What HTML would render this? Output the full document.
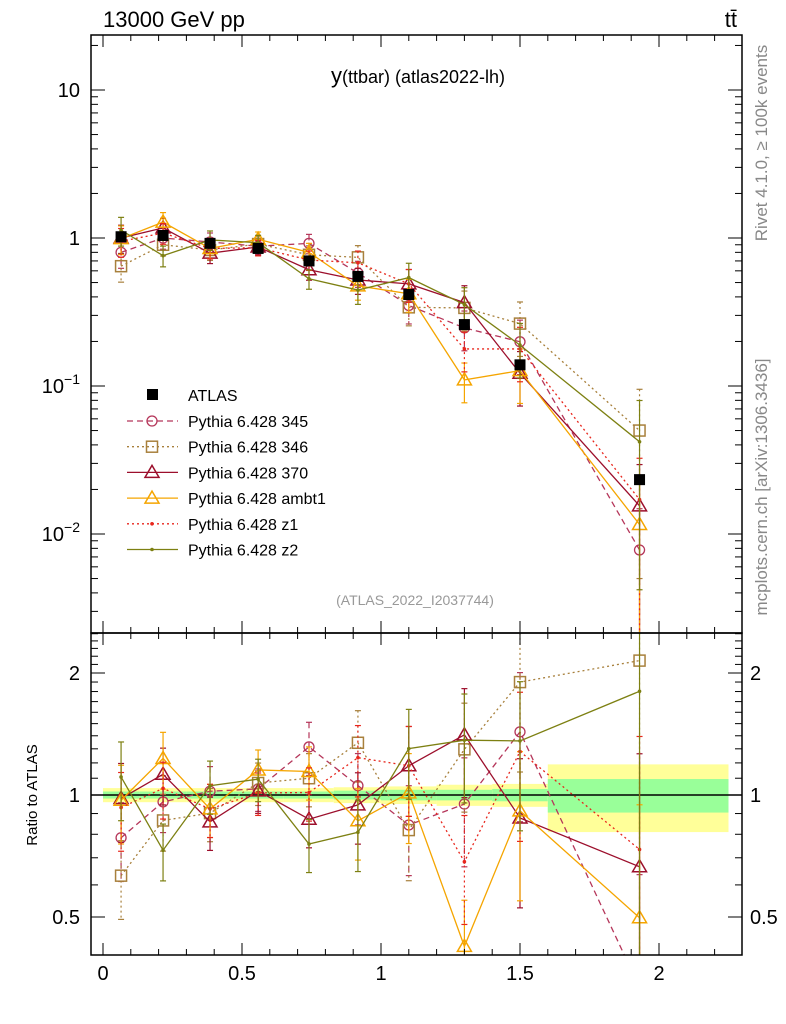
<!DOCTYPE html>
<html><head><meta charset="utf-8"><style>
html,body{margin:0;padding:0;background:#fff;width:786px;height:1024px;overflow:hidden}
svg{display:block;font-family:"Liberation Sans",sans-serif}
</style></head><body>
<svg id="c" width="786" height="1024"></svg>
<script>
const binX=[0.065,0.216,0.385,0.558,0.741,0.917,1.10,1.30,1.50,1.93];
const binEdges=[0,0.13,0.3,0.47,0.65,0.83,1.0,1.2,1.4,1.6,2.25];
const bandGreen=[0.02,0.02,0.02,0.02,0.02,0.025,0.03,0.03,0.035,0.095];
const bandYellow=[0.04,0.04,0.04,0.04,0.04,0.045,0.05,0.06,0.065,0.19];
const atlas=[1.02,1.04,0.92,0.85,0.70,0.55,0.415,0.26,0.139,0.0233];
const s345=[0.80,1.00,0.94,0.88,0.92,0.58,0.35,0.247,0.199,0.0078];
const s346=[0.645,0.90,0.83,0.91,0.77,0.74,0.34,0.337,0.264,0.050];
const s370=[1.00,1.17,0.79,0.87,0.61,0.52,0.49,0.366,0.122,0.0155];
const sambt1=[0.99,1.28,0.85,0.98,0.80,0.475,0.42,0.110,0.127,0.0116];
const sz1=[0.95,1.08,0.85,0.86,0.71,0.68,0.49,0.178,0.178,0.0171];
const sz2=[1.13,0.76,0.97,0.93,0.53,0.445,0.54,0.355,0.189,0.042];
const relErr=[0.22,0.16,0.15,0.12,0.15,0.2,0.25,0.3,0.4,0.9];
const series=[
 {name:"Pythia 6.428 345",v:s345,c:"#b5365a",dash:"6,4",m:"circle"},
 {name:"Pythia 6.428 346",v:s346,c:"#a8803c",dash:"2,3",m:"square"},
 {name:"Pythia 6.428 370",v:s370,c:"#9c0f2c",dash:"",m:"tri"},
 {name:"Pythia 6.428 ambt1",v:sambt1,c:"#f5a500",dash:"",m:"tri"},
 {name:"Pythia 6.428 z1",v:sz1,c:"#e8261c",dash:"2,3",m:"dot"},
 {name:"Pythia 6.428 z2",v:sz2,c:"#7d8012",dash:"",m:"dot"}];
const NS="http://www.w3.org/2000/svg",svg=document.getElementById('c');
function el(t,a,p){const e=document.createElementNS(NS,t);for(const k in a)e.setAttribute(k,a[k]);(p||svg).appendChild(e);return e;}
const L=91,R=742,T=35,M=633,B=955;
const X=v=>103+v*278;
const Y=v=>238-Math.log10(v)*148;
const YR=v=>795-Math.log2(v)*122;
binEdges.slice(0,-1).forEach((e,i)=>{
 const x0=X(e),x1=X(binEdges[i+1]);
 const b=el('rect',{x:x0,y:YR(1+bandYellow[i]),width:x1-x0,height:YR(1-bandYellow[i])-YR(1+bandYellow[i]),fill:"#ffff99"});
 
 const g=el('rect',{x:x0,y:YR(1+bandGreen[i]),width:x1-x0,height:YR(1-bandGreen[i])-YR(1+bandGreen[i]),fill:"#99ff99"});
 
});
el('line',{x1:L,x2:R,y1:YR(1),y2:YR(1),stroke:"#000","stroke-width":1.5});
const clipM=el('clipPath',{id:'cm'});el('rect',{x:L,y:T,width:R-L,height:M-T},clipM);
const clipR=el('clipPath',{id:'cr'});el('rect',{x:L,y:M,width:R-L,height:B-M},clipR);
function marker(g,m,x,y,c){
 if(m=="circle")el('circle',{cx:x,cy:y,r:5,fill:"none",stroke:c,"stroke-width":1.3},g);
 else if(m=="square")el('rect',{x:x-5.5,y:y-5.5,width:11,height:11,fill:"none",stroke:c,"stroke-width":1.5},g);
 else if(m=="tri")el('polygon',{points:`${x},${y-7} ${x-7},${y+5} ${x+7},${y+5}`,fill:"none",stroke:c,"stroke-width":1.5},g);
 else el('circle',{cx:x,cy:y,r:1.8,fill:c},g);
}
function drawSeries(s,fy,ratio,clip){
 const g=el('g',{"clip-path":`url(#${clip})`});
 
 
 const vals=s.v.map((v,i)=>ratio?v/atlas[i]:v);
 el('polyline',{points:vals.map((v,i)=>X(binX[i])+","+fy(v)).join(" "),fill:"none",stroke:s.c,"stroke-width":1.3,"stroke-dasharray":s.dash},g);
 vals.forEach((v,i)=>{
  const x=X(binX[i]),hi=v*(1+relErr[i]),lo=Math.max(v*(1-relErr[i]),1e-4);
  el('line',{x1:x,x2:x,y1:fy(hi),y2:fy(lo),stroke:s.c,"stroke-width":1.2,"stroke-dasharray":s.dash},g);
  el('line',{x1:x-3,x2:x+3,y1:fy(hi),y2:fy(hi),stroke:s.c,"stroke-width":1.2},g);
  el('line',{x1:x-3,x2:x+3,y1:fy(lo),y2:fy(lo),stroke:s.c,"stroke-width":1.2},g);
  marker(g,s.m,x,fy(v),s.c);
 });
}
series.forEach(s=>{drawSeries(s,Y,false,'cm');drawSeries(s,YR,true,'cr');});
const ag=el('g',{});
atlas.forEach((v,i)=>{const x=X(binX[i]);el('rect',{x:x-5.5,y:Y(v)-5.5,width:11,height:11,fill:"#000"},ag);});
el('rect',{x:L,y:T,width:R-L,height:M-T,fill:"none",stroke:"#000","stroke-width":1.5});
el('rect',{x:L,y:M,width:R-L,height:B-M,fill:"none",stroke:"#000","stroke-width":1.5});
for(let k=0;k<=22;k++){const v=k/10,x=X(v),big=k%5==0;
 [[T,1],[M,-1],[M,1],[B,-1]].forEach(([y,d])=>el('line',{x1:x,x2:x,y1:y,y2:y+d*(big?12:6),stroke:"#000"}));
 if(big){const t=el('text',{x:x,y:980,"font-size":20,"text-anchor":"middle"});t.textContent=String(v);}}
for(let d=-3;d<=1;d++)for(let m=1;m<10;m++){const v=m*Math.pow(10,d),y=Y(v);if(y<T||y>M)continue;
 const len=m==1?14:7;el('line',{x1:L,x2:L+len,y1:y,y2:y,stroke:"#000"});el('line',{x1:R,x2:R-len,y1:y,y2:y,stroke:"#000"});}
const ytl=[["10",1],["1",0]];
ytl.forEach(([s,e])=>{const t=el('text',{x:80,y:Y(Math.pow(10,e))+7,"font-size":20,"text-anchor":"end"});t.textContent=s;});
[-1,-2].forEach(e=>{const t=el('text',{x:80,y:Y(Math.pow(10,e))+7,"font-size":20,"text-anchor":"end"});t.innerHTML=`10<tspan dy="-9" font-size="14">${e==-1?'−1':'−2'}</tspan>`;});
const rt=[0.4,0.5,0.6,0.7,0.8,0.9,1,1.1,1.2,1.3,1.4,1.5,1.6,1.7,1.8,1.9,2,2.1,2.2,2.3,2.4,2.5];
rt.forEach(v=>{const y=YR(v);if(y<M||y>B)return;const big=[0.5,1,2].includes(v),len=big?14:7;
 el('line',{x1:L,x2:L+len,y1:y,y2:y,stroke:"#000"});el('line',{x1:R,x2:R-len,y1:y,y2:y,stroke:"#000"});});
[["0.5",0.5],["1",1],["2",2]].forEach(([s,v])=>{
 let t=el('text',{x:80,y:YR(v)+7,"font-size":20,"text-anchor":"end"});t.textContent=s;
 t=el('text',{x:750,y:YR(v)+7,"font-size":20});t.textContent=s;});
function txt(s,a,name){const t=el('text',a);t.textContent=s;return t;}
txt("13000 GeV pp",{x:103,y:27,"font-size":22},"energy-label");
txt("tt̄",{x:737,y:27,"font-size":22,"text-anchor":"end"},"process-label");
const ti=el('text',{x:418,y:83,"font-size":18,"text-anchor":"middle"});ti.innerHTML='<tspan font-size="22">y</tspan>(ttbar) (atlas2022-lh)';
txt("(ATLAS_2022_I2037744)",{x:415,y:605,"font-size":14,fill:"#999","text-anchor":"middle"},"analysis-id");
txt("Rivet 4.1.0, ≥ 100k events",{x:0,y:0,"font-size":17,fill:"#888","text-anchor":"middle",transform:"translate(767,143) rotate(-90)"},"rivet-label");
txt("mcplots.cern.ch [arXiv:1306.3436]",{x:0,y:0,"font-size":17,fill:"#888","text-anchor":"middle",transform:"translate(767,487) rotate(-90)"},"mcplots-label");
txt("Ratio to ATLAS",{x:0,y:0,"font-size":15,"text-anchor":"middle",transform:"translate(37,795) rotate(-90)"},"ratio-y-title");
const lg=el('g',{});
el('rect',{x:147,y:389,width:11,height:11,fill:"#000"},lg);
let t0=el('text',{x:188,y:401,"font-size":16},lg);t0.textContent="ATLAS";
series.forEach((s,i)=>{const y=421+i*25.7;
 const e=el('g',{},lg);
 el('line',{x1:127,x2:178,y1:y,y2:y,stroke:s.c,"stroke-width":1.3,"stroke-dasharray":s.dash},e);
 marker(e,s.m,152,y,s.c);
 const t=el('text',{x:188,y:y+6,"font-size":16},e);t.textContent=s.name;});
</script>
</body></html>
